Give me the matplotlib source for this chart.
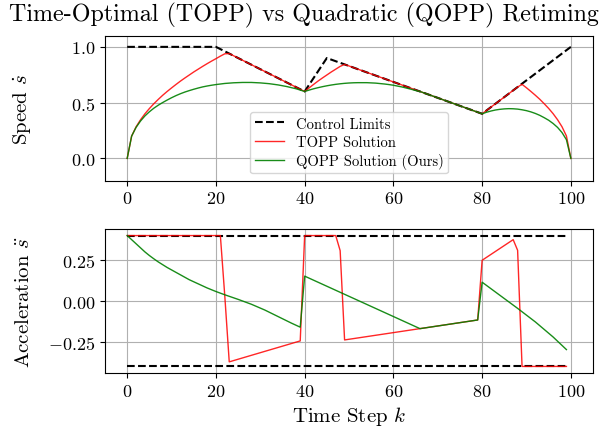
import matplotlib

matplotlib.use("Agg")
import matplotlib.pyplot as plt

# --- data ------------------------------------------------------------------
# speed limit (piecewise linear vertices)
LIMIT_K = [0, 20, 40, 45, 80, 100]
LIMIT_SPEED = [1.0, 1.0, 0.6, 0.9, 0.4, 1.0]

# acceleration bounds
ACC_K = [0, 99]
ACC_MAX = [0.4, 0.4]
ACC_MIN = [-0.4, -0.4]

# TOPP speed
TOPP_K = list(range(0, 24)) + [40] + list(range(41, 50)) + [80, 88] + list(range(89, 101))
TOPP_SPEED = [
    0.0, 0.2, 0.283, 0.346, 0.4, 0.447, 0.49, 0.529, 0.566, 0.6, 0.632, 0.663,
    0.693, 0.721, 0.748, 0.775, 0.8, 0.825, 0.849, 0.872, 0.894, 0.917, 0.938, 0.94,
    0.6,
    0.632, 0.663, 0.693, 0.721, 0.748, 0.775, 0.8, 0.825, 0.843,
    0.4, 0.64,
    0.664, 0.633, 0.6, 0.566, 0.53, 0.49, 0.448, 0.401, 0.347, 0.284, 0.201, 0.0,
]

# QOPP speed
QOPP_K = (list(range(0, 21)) + [22, 24, 26, 28, 30, 32, 34, 36, 38, 39]
          + list(range(40, 67)) + list(range(80, 101)))
QOPP_SPEED = [
    0.0, 0.2, 0.278, 0.335, 0.381, 0.418, 0.45, 0.477, 0.501, 0.523, 0.544,
    0.563, 0.58, 0.595, 0.608, 0.62, 0.631, 0.641, 0.649, 0.656, 0.662,
    0.672, 0.678, 0.681, 0.681, 0.677, 0.67, 0.659, 0.644, 0.625, 0.613,
    0.6, 0.6125, 0.624, 0.634, 0.643, 0.651, 0.658, 0.664, 0.669, 0.673, 0.676,
    0.678, 0.679, 0.679, 0.679, 0.677, 0.675, 0.671, 0.667, 0.662, 0.656, 0.648,
    0.64, 0.63, 0.62, 0.609, 0.6,
    0.4, 0.414, 0.425, 0.434, 0.44, 0.444, 0.446, 0.445, 0.442, 0.436, 0.428,
    0.417, 0.403, 0.386, 0.365, 0.342, 0.313, 0.278, 0.232, 0.168, 0.0,
]

# TOPP acceleration (vertices)
TOPP_ACC_K = [0, 21, 22, 23, 39, 40, 47, 48, 49, 79, 80, 87, 88, 89, 99]
TOPP_ACC = [0.4, 0.4, 0.03, -0.372, -0.244, 0.4, 0.4, 0.308, -0.238,
            -0.116, 0.249, 0.375, 0.31, -0.4, -0.4]

# QOPP acceleration
QOPP_ACC_K = [0, 1, 2, 3, 4, 5, 6, 7, 8, 9, 10, 12, 14, 16, 18, 20, 22, 25, 28,
              31, 34, 37, 39, 40, 66, 79, 80, 84, 88, 92, 96, 99]
QOPP_ACC = [0.4, 0.375, 0.35, 0.325, 0.3, 0.278, 0.258, 0.239, 0.222, 0.205, 0.19,
            0.16, 0.13, 0.105, 0.08, 0.058, 0.038, 0.01, -0.02, -0.055, -0.095,
            -0.135, -0.16, 0.152, -0.169, -0.116, 0.115, 0.035, -0.045, -0.128,
            -0.22, -0.297]

# --- style ------------------------------------------------------------------
plt.rcParams["font.family"] = "serif"
plt.rcParams["font.serif"] = ["cmr10"]
plt.rcParams["mathtext.fontset"] = "cm"
plt.rcParams["axes.formatter.use_mathtext"] = True
plt.rcParams["axes.unicode_minus"] = True

fig = plt.figure(figsize=(6.07, 4.31), dpi=100)
ax1 = fig.add_axes([0.173, 0.5784, 0.804, 0.3364])
ax2 = fig.add_axes([0.173, 0.1323, 0.804, 0.334])

fig.text(0.5, 1 - 15 / 431, "Time-Optimal (TOPP) vs Quadratic (QOPP) Retiming",
         ha="center", va="center", fontsize=17.3)

# top: speed
ax1.plot(LIMIT_K, LIMIT_SPEED, "k--", lw=1.5, label="Control Limits")
ax1.plot(TOPP_K, TOPP_SPEED, color="red", lw=1.0, alpha=0.85, label="TOPP Solution")
ax1.plot(QOPP_K, QOPP_SPEED, color="green", lw=1.0, alpha=0.9, label="QOPP Solution (Ours)")
ax1.set_xlim(-5, 105)
ax1.set_ylim(-0.2, 1.1)
ax1.set_yticks([0.0, 0.5, 1.0])
ax1.set_xticks([0, 20, 40, 60, 80, 100])
ax1.set_ylabel(r"Speed $\dot{s}$", fontsize=15)
ax1.grid(True)
ax1.legend(loc="lower center", fontsize=10.5, labelspacing=0.3, borderpad=0.3)

# bottom: acceleration
ax2.plot(ACC_K, ACC_MAX, "k--", lw=1.5)
ax2.plot(ACC_K, ACC_MIN, "k--", lw=1.5)
ax2.plot(TOPP_ACC_K, TOPP_ACC, color="red", lw=1.0, alpha=0.85)
ax2.plot(QOPP_ACC_K, QOPP_ACC, color="green", lw=1.0, alpha=0.9)
ax2.set_xlim(-5, 105)
ax2.set_ylim(-0.44, 0.44)
ax2.set_yticks([-0.25, 0.0, 0.25])
ax2.set_xticks([0, 20, 40, 60, 80, 100])
ax2.set_ylabel(r"Acceleration $\ddot{s}$", fontsize=15)
ax2.set_xlabel(r"Time Step $k$", fontsize=15)
ax2.grid(True)

for ax in (ax1, ax2):
    ax.tick_params(labelsize=13)
    ax.yaxis.set_label_coords(-0.148, 0.5)

fig.savefig("out.png", dpi=100)
